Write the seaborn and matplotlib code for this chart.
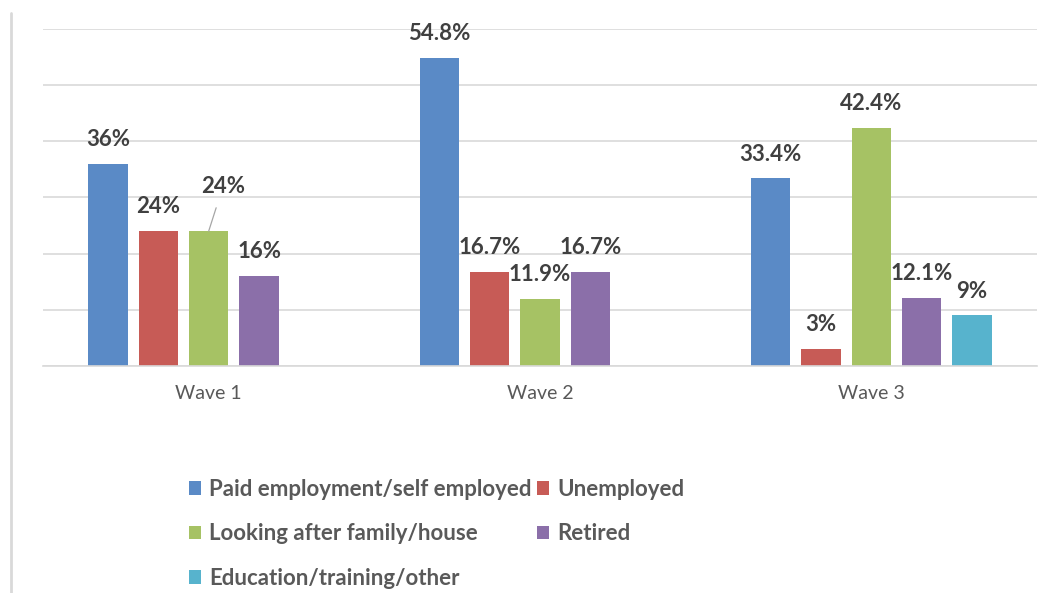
import numpy as np
import pandas as pd
import matplotlib
matplotlib.use("Agg")
import matplotlib.pyplot as plt
from matplotlib.patches import Patch
from matplotlib.lines import Line2D
import seaborn as sns

# Survey waves and employment status shares (%)
waves = ["Wave 1", "Wave 2", "Wave 3"]
statuses = [
    "Paid employment/self employed",
    "Unemployed",
    "Looking after family/house",
    "Retired",
    "Education/training/other",
]
paid = [36, 54.8, 33.4]
unemployed = [24, 16.7, 3]
family = [24, 11.9, 42.4]
retired = [16, 16.7, 12.1]
education = [np.nan, np.nan, 9]

colors = ["#5A8AC6", "#C75B56", "#A6C264", "#8B6FA9", "#57B3CD"]

rows = []
for status, vals in zip(statuses, [paid, unemployed, family, retired, education]):
    for w, v in zip(waves, vals):
        if not np.isnan(v):
            rows.append({"wave": w, "status": status, "value": v})
df = pd.DataFrame(rows)

sns.set_theme(style="white")
plt.rcParams["font.family"] = ["Lato", "DejaVu Sans"]

fig = plt.figure(figsize=(10.55, 5.93), dpi=100)
ax = fig.add_axes([0.0408, 0.3828, 0.942, 0.5683])

sns.barplot(
    data=df, x="wave", y="value", hue="status",
    order=waves, hue_order=statuses, palette=colors,
    width=0.76, gap=0.22, saturation=1, linewidth=0,
    legend=False, ax=ax,
)

ax.set_ylim(0, 60)
ax.set_yticks(np.arange(0, 61, 10))
ax.set_yticklabels([])
ax.tick_params(axis="y", length=0)
ax.tick_params(axis="x", length=0, pad=14, labelsize=14, labelcolor="#595959")
ax.yaxis.grid(True, color="#d9d9d9", lw=1.2)
ax.set_axisbelow(True)
ax.set_xlabel("")
ax.set_ylabel("")
for side in ["left", "right", "top"]:
    ax.spines[side].set_visible(False)
ax.spines["bottom"].set_color("#d9d9d9")
ax.spines["bottom"].set_linewidth(1.2)
ax.set_xlim(-0.5, 2.5)

# Value labels above each bar
label_color = "#404040"
for status, cont in zip(statuses, ax.containers):
    for bar in cont:
        h = bar.get_height()
        if h is None or np.isnan(h):
            continue
        xc = bar.get_x() + bar.get_width() / 2
        cat = int(round(xc))
        text = f"{h:g}%"
        if cat == 0 and status == "Looking after family/house":
            ax.annotate(
                text, xy=(xc, h), xytext=(10.5, 32.5), textcoords="offset points",
                ha="center", va="center", fontsize=16, fontweight="bold",
                color=label_color,
                arrowprops=dict(arrowstyle="-", color="#a6a6a6", lw=0.9,
                                relpos=(0.42, 0.0), shrinkA=6, shrinkB=0),
            )
        else:
            ax.annotate(
                text, xy=(xc, h), xytext=(0, 17.5), textcoords="offset points",
                ha="center", va="center", fontsize=16, fontweight="bold",
                color=label_color,
            )

# Legend, filled row by row
handles = [Patch(facecolor=c, edgecolor="none") for c in colors]
order = [0, 2, 4, 1, 3]
fig.legend(
    [handles[i] for i in order], [statuses[i] for i in order],
    ncol=2, loc="upper left", bbox_to_anchor=(0.179, 0.1925),
    frameon=False, prop={"weight": "bold", "size": 16},
    handlelength=0.55, handleheight=0.55, handletextpad=0.35,
    columnspacing=0.25, labelspacing=1.06, borderaxespad=0, borderpad=0,
    labelcolor="#595959",
)

# Thin border line at the left edge
fig.add_artist(Line2D([11 / 1055, 11 / 1055], [0, 1 - 13 / 593],
                      transform=fig.transFigure, color="#d9d9d9", lw=2))

fig.savefig("out.png", dpi=100)
